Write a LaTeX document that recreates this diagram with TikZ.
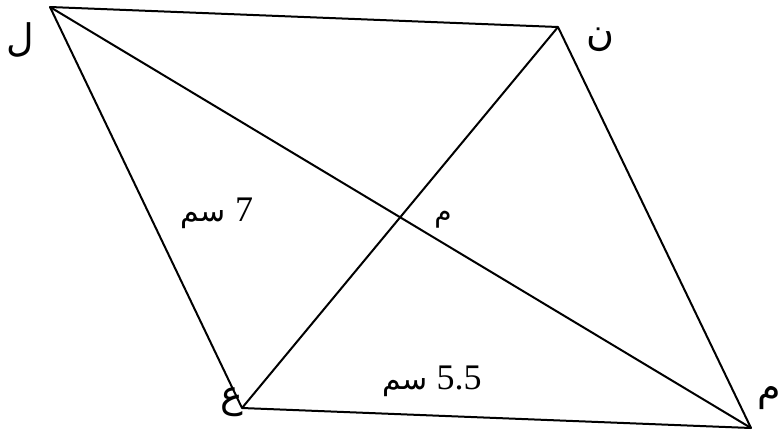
\documentclass[tikz,border=0pt]{standalone}
\usepackage{fontspec}
\setmainfont{Liberation Serif}
\newfontfamily\arabicfont[Script=Arabic]{DejaVu Sans}
\TeXXeTstate=1
\usetikzlibrary{positioning}

\tikzset{
  side/.style={line width=2pt, line join=round},
  vlabel/.style={font=\fontsize{38}{40}\selectfont\arabicfont, inner sep=0pt},
  mlabel/.style={font=\fontsize{36}{38}\selectfont, inner sep=0pt}
}

\begin{document}
\begin{tikzpicture}[x=1pt, y=-1pt]
\useasboundingbox (0,0) rectangle (781,432);

\coordinate (L) at (50,7);
\coordinate (N) at (558,27);
\coordinate (M) at (751,428);
\coordinate (A) at (242,408);

\draw[side] (L) -- (N) -- (M) -- (A) -- cycle;
\draw[side] (L) -- (M);
\draw[side] (A) -- (N);

\node[vlabel] (lL) at (20,40) {\beginR ل\endR};
\node[vlabel] (lN) at (600,40) {\beginR ن\endR};
\node[vlabel, anchor=east] (lM) at (781,398) {\beginR م\endR};
\node[vlabel] (lA) at (232,402) {\beginR ع\endR};
\node[vlabel, font=\fontsize{28}{30}\selectfont\arabicfont] (lO) at (443,220) {\beginR م\endR};

\node[mlabel] (side1) at (217,213) {\beginR 7 {\arabicfont\fontsize{30}{32}\selectfont سم}\endR};
\node[mlabel] (side2) at (432,381) {\beginR 5.5 {\arabicfont\fontsize{30}{32}\selectfont سم}\endR};

\end{tikzpicture}
\end{document}
